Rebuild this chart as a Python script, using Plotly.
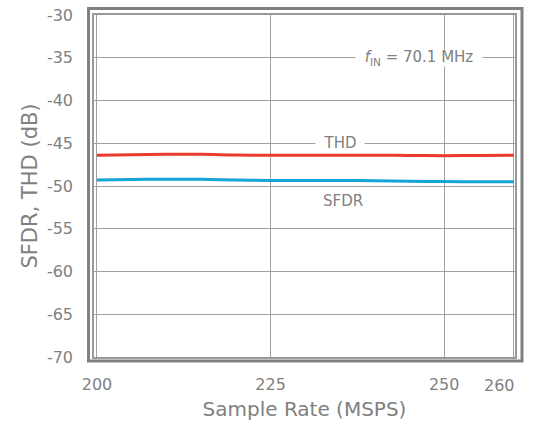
import plotly.graph_objects as go

sample_rate = [200, 205, 210, 215, 220, 225, 230, 235, 240, 245, 250, 255, 260]
thd = [-46.4, -46.35, -46.3, -46.3, -46.38, -46.4, -46.4, -46.4, -46.4, -46.43, -46.45, -46.42, -46.4]
sfdr = [-49.3, -49.25, -49.2, -49.22, -49.3, -49.35, -49.35, -49.35, -49.38, -49.45, -49.48, -49.5, -49.5]

x_ticks = [200, 225, 250, 260]
x_labels = ["200", "225", "250", ""]   # 260 is drawn right-aligned below
y_ticks = [-70, -65, -60, -55, -50, -45, -40, -35, -30]
y_labels = ["-70", "-65", "-60", "-55", "-50", "-45", "-40", "-35", "-30"]

GRAY = "#808080"
FONT = "DejaVu Sans"
X_RANGE = [199.57, 260.2]

fig = go.Figure()
fig.add_trace(go.Scatter(x=sample_rate, y=thd, mode="lines", name="THD",
                         line=dict(color="#ec3a2e", width=3, shape="spline")))
fig.add_trace(go.Scatter(x=sample_rate, y=sfdr, mode="lines", name="SFDR",
                         line=dict(color="#13a5d6", width=3, shape="spline")))

ann_font = dict(family=FONT, size=15, color=GRAY)
# labels sit on gridlines; white box hides the gridline behind them
fig.add_annotation(x=235, y=-45, text="THD", showarrow=False, bgcolor="white",
                   font=ann_font, borderpad=0, width=48, height=14)
fig.add_annotation(x=235.5, y=-51.7, text="SFDR", showarrow=False, font=ann_font)
fig.add_annotation(x=246.4, y=-35, text="<i>f</i><sub>IN</sub> = 70.1 MHz", showarrow=False,
                   bgcolor="white", font=ann_font, borderpad=0, width=126, height=16)

# last x tick label kept inside the frame, as in the original
fig.add_annotation(x=X_RANGE[1], y=0, yref="paper", text=str(x_ticks[-1]), showarrow=False,
                   xanchor="right", yanchor="top", yshift=-18, xshift=1, borderpad=0,
                   font=dict(family=FONT, size=16, color=GRAY))

# outer heavy frame around the plot area
fig.add_shape(type="rect", xref="paper", yref="paper",
              x0=-0.013, x1=1.0166, y0=-0.0117, y1=1.019,
              line=dict(color=GRAY, width=3), layer="above")

axis_common = dict(showline=True, mirror=True, linecolor="#999999", linewidth=1.5,
                   showgrid=True, gridcolor="#a0a0a0", gridwidth=1, zeroline=False,
                   automargin=False,
                   ticks="", tickfont=dict(family=FONT, size=16, color=GRAY))

fig.update_xaxes(range=X_RANGE, tickvals=x_ticks, ticktext=x_labels,
                 ticklabelstandoff=12,
                 title=dict(text="Sample Rate (MSPS)", font=dict(family=FONT, size=20, color=GRAY),
                            standoff=9),
                 **axis_common)
fig.update_yaxes(range=[-70, -30], tickvals=y_ticks, ticktext=y_labels,
                 ticklabelstandoff=16,
                 title=dict(text="SFDR, THD (dB)", font=dict(family=FONT, size=21, color=GRAY),
                            standoff=4),
                 **axis_common)

fig.update_layout(width=536, height=427, showlegend=False,
                  margin=dict(l=94, r=21, t=15, b=70),
                  plot_bgcolor="white", paper_bgcolor="white")

fig.write_html("out.html", config={"displayModeBar": False},
               post_script="document.body.style.margin='0';")
